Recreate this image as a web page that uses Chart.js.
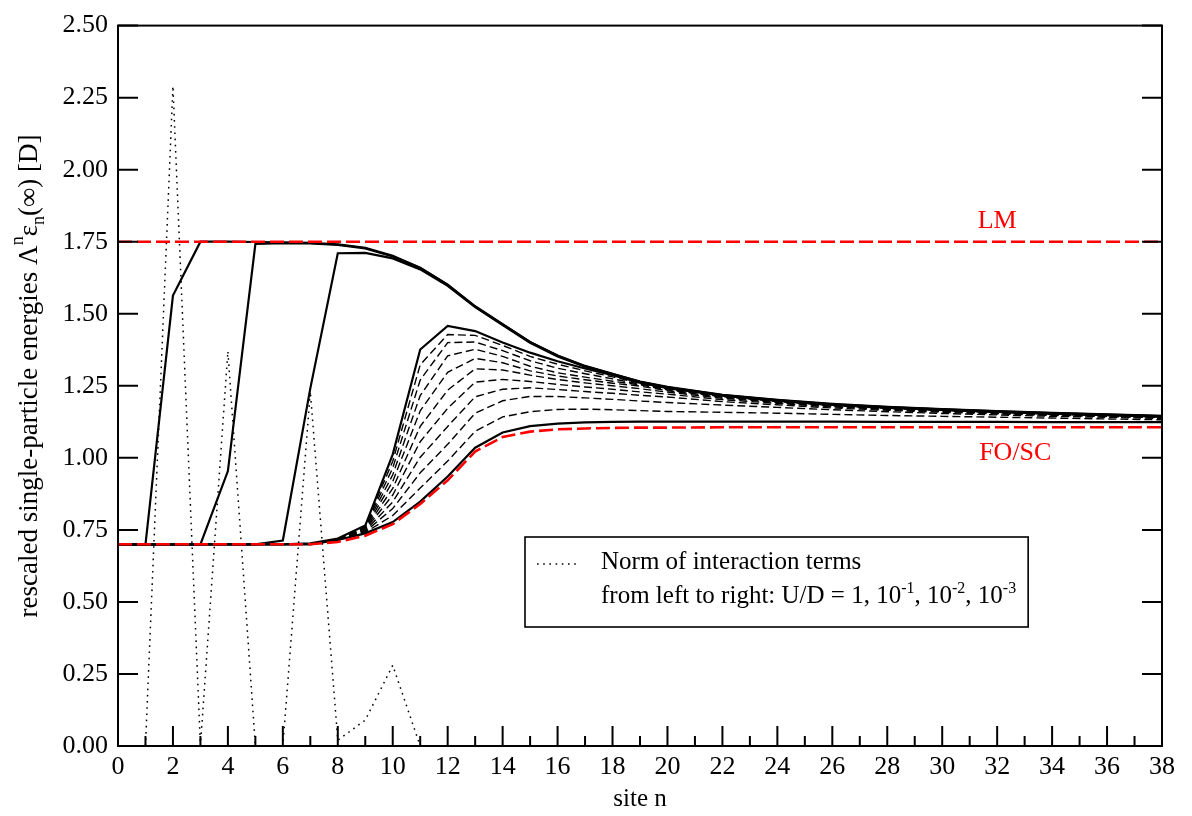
<!DOCTYPE html>
<html>
<head>
<meta charset="utf-8">
<script src="https://cdn.jsdelivr.net/npm/chart.js@4.4.1/dist/chart.umd.min.js"></script>
<style>
  body { margin: 0; background: #fff; }
  #wrap { width: 1192px; height: 816px; }
</style>
</head>
<body>
<div id="wrap"><canvas id="chart" width="1192" height="816"></canvas></div>
<script>
// sites used by the full curves
const sites = [0,1,2,3,4,5,6,7,8,9,10,11,12,13,14,15,16,17,18,19,20,22,24,26,28,30,32,34,36,38];

// solid curves, U/D = 1, 1e-1, 1e-2, 1e-3
const curveU1 = [0.70,0.70,1.563,1.750,1.750,1.749,1.748,1.746,1.741,1.729,1.701,1.660,1.601,1.526,1.464,1.402,1.355,1.319,1.292,1.265,1.246,1.219,1.201,1.187,1.177,1.169,1.162,1.156,1.151,1.146];
const curveU01 = [0.70,0.70,0.70,0.70,0.954,1.742,1.745,1.744,1.739,1.727,1.699,1.659,1.600,1.525,1.463,1.401,1.354,1.318,1.291,1.264,1.245,1.218,1.200,1.186,1.176,1.168,1.161,1.155,1.150,1.145];
const curveU001 = [0.70,0.70,0.70,0.70,0.70,0.70,0.713,1.241,1.710,1.711,1.692,1.654,1.597,1.523,1.461,1.399,1.352,1.316,1.289,1.263,1.244,1.217,1.199,1.185,1.175,1.167,1.160,1.154,1.149,1.144];
const curveU0001 = [0.70,0.70,0.70,0.70,0.70,0.70,0.70,0.703,0.720,0.765,1.012,1.376,1.458,1.440,1.400,1.365,1.335,1.310,1.287,1.261,1.242,1.216,1.198,1.184,1.174,1.166,1.159,1.153,1.148,1.143];
const curveLow = [0.70,0.70,0.70,0.70,0.70,0.70,0.70,0.70,0.715,0.738,0.777,0.848,0.935,1.035,1.088,1.110,1.119,1.123,1.125,1.126,1.126,1.126,1.126,1.126,1.125,1.125,1.125,1.124,1.124,1.124];

// red reference lines
const foSc = [0.70,0.70,0.70,0.70,0.70,0.70,0.70,0.70,0.708,0.730,0.770,0.840,0.922,1.022,1.072,1.091,1.099,1.102,1.104,1.105,1.105,1.106,1.106,1.106,1.106,1.106,1.106,1.106,1.106,1.106];
const lmSites = [0, 38];
const lm = [1.75, 1.75];

// dashed fan between U/D = 1e-3 and the lowest curve
const fanSites = [8,9,10,11,12,13,14,15,16,17,18,19,20,22,24,26,28,30,34,38];
const fan1 = [0.719,0.764,0.988,1.323,1.428,1.425,1.390,1.352,1.325,1.302,1.281,1.259,1.241,1.215,1.198,1.184,1.174,1.166,1.153,1.143];
const fan2 = [0.719,0.762,0.965,1.270,1.400,1.402,1.372,1.337,1.311,1.292,1.274,1.256,1.239,1.214,1.197,1.183,1.173,1.165,1.152,1.143];
const fan3 = [0.718,0.759,0.941,1.216,1.354,1.377,1.352,1.318,1.295,1.280,1.266,1.253,1.236,1.212,1.196,1.182,1.172,1.165,1.152,1.142];
const fan4 = [0.718,0.756,0.918,1.163,1.297,1.345,1.330,1.302,1.284,1.271,1.259,1.249,1.233,1.210,1.194,1.181,1.171,1.164,1.151,1.142];
const fan5 = [0.717,0.753,0.894,1.109,1.235,1.309,1.305,1.287,1.272,1.260,1.250,1.240,1.228,1.207,1.192,1.179,1.170,1.163,1.150,1.141];
const fan6 = [0.717,0.750,0.871,1.056,1.172,1.263,1.272,1.265,1.255,1.246,1.238,1.229,1.221,1.202,1.189,1.177,1.168,1.161,1.149,1.140];
const fan7 = [0.716,0.747,0.847,1.002,1.109,1.212,1.238,1.243,1.237,1.230,1.224,1.217,1.211,1.195,1.184,1.173,1.165,1.158,1.147,1.139];
const fan8 = [0.716,0.744,0.824,0.948,1.047,1.155,1.198,1.213,1.213,1.208,1.203,1.197,1.192,1.183,1.175,1.167,1.160,1.154,1.144,1.137];
const fan9 = [0.715,0.741,0.800,0.895,0.989,1.092,1.142,1.160,1.168,1.169,1.167,1.164,1.161,1.158,1.155,1.151,1.147,1.144,1.138,1.132];

// norm of interaction terms (dotted)
const normSites = [1,2,3,4,5,6,7,8,9,10,11];
const norm = [0,2.29,0,1.37,0,0,1.23,0.02,0.09,0.28,0];

const serif = '"Liberation Serif", "Times New Roman", serif';
const pts = (xs, ys) => xs.map((x, i) => ({ x: x, y: ys[i] }));

const base = { pointRadius: 0, tension: 0, fill: false };
const solid = (d) => ({ ...base, data: d, borderColor: '#000', borderWidth: 2.2 });
const dashed = (d) => ({ ...base, data: d, borderColor: '#000', borderWidth: 1.4, borderDash: [8, 4] });
const red = (d) => ({ ...base, data: d, borderColor: '#ff0000', borderWidth: 2.6, borderDash: [14, 5] });

const datasets = [
  red(pts(lmSites, lm)),
  red(pts(sites, foSc)),
  solid(pts(sites, curveU1)),
  solid(pts(sites, curveU01)),
  solid(pts(sites, curveU001)),
  solid(pts(sites, curveU0001)),
  solid(pts(sites, curveLow)),
  ...[fan1, fan2, fan3, fan4, fan5, fan6, fan7, fan8, fan9].map(f => dashed(pts(fanSites, f))),
  { ...base, data: pts(normSites, norm), borderColor: '#000', borderWidth: 1.5, borderDash: [1.6, 4.6] }
];

function richWidth(ctx, parts) {
  let w = 0;
  parts.forEach(p => { ctx.font = p.s + 'px ' + serif; w += ctx.measureText(p.t).width; });
  return w;
}
function drawRich(ctx, parts, x, y) {
  parts.forEach(p => {
    ctx.font = p.s + 'px ' + serif;
    ctx.fillText(p.t, x, y + (p.dy || 0));
    x += ctx.measureText(p.t).width;
  });
}

const legendLine1 = [{ t: 'Norm of interaction terms', s: 25 }];
const legendLine2 = [
  { t: 'from left to right: U/D = 1, 10', s: 25 }, { t: '-1', s: 16, dy: -10 },
  { t: ', 10', s: 25 }, { t: '-2', s: 16, dy: -10 },
  { t: ', 10', s: 25 }, { t: '-3', s: 16, dy: -10 }
];

const framePlugin = {
  id: 'frame',
  afterDraw(chart) {
    const { ctx, chartArea: a, scales: { x, y } } = chart;
    ctx.save();
    ctx.strokeStyle = '#000';
    ctx.lineWidth = 2;
    ctx.strokeRect(a.left, a.top, a.right - a.left, a.bottom - a.top);
    ctx.beginPath();
    for (let v = x.min; v <= x.max; v++) {
      const px = x.getPixelForValue(v);
      const len = v % 2 === 0 ? 20 : 10;
      ctx.moveTo(px, a.bottom); ctx.lineTo(px, a.bottom - len);
    }
    y.ticks.forEach(t => {
      const py = y.getPixelForValue(t.value);
      ctx.moveTo(a.left, py); ctx.lineTo(a.left + 20, py);
      ctx.moveTo(a.right, py); ctx.lineTo(a.right - 20, py);
    });
    ctx.stroke();

    // curve labels
    ctx.fillStyle = '#ff0000';
    ctx.font = '26px ' + serif;
    ctx.textAlign = 'center';
    ctx.textBaseline = 'middle';
    ctx.fillText('LM', x.getPixelForValue(32.0), y.getPixelForValue(1.82));
    ctx.fillText('FO/SC', x.getPixelForValue(32.66), y.getPixelForValue(1.016));

    // legend, box sized to the longer line
    ctx.fillStyle = '#000';
    ctx.textAlign = 'left';
    ctx.textBaseline = 'alphabetic';
    const textX = 601;
    const boxRight = textX + Math.max(richWidth(ctx, legendLine1), richWidth(ctx, legendLine2)) + 12;
    ctx.lineWidth = 1.6;
    ctx.strokeRect(525, 537, boxRight - 525, 90);
    ctx.lineWidth = 1.5;
    ctx.setLineDash([1.6, 4.6]);
    ctx.beginPath(); ctx.moveTo(537, 564); ctx.lineTo(578, 564); ctx.stroke();
    ctx.setLineDash([]);
    drawRich(ctx, legendLine1, textX, 569);
    drawRich(ctx, legendLine2, textX, 603);

    // y axis title
    const parts = [
      { t: 'rescaled single-particle energies Λ', s: 27 }, { t: 'n', s: 18, dy: -14 },
      { t: 'ε', s: 27 }, { t: 'n', s: 18, dy: 7 },
      { t: '(∞) [D]', s: 27 }
    ];
    ctx.translate(37, 376);
    ctx.rotate(-Math.PI / 2);
    drawRich(ctx, parts, -richWidth(ctx, parts) / 2, 0);
    ctx.restore();
  }
};

new Chart(document.getElementById('chart'), {
  type: 'line',
  data: { datasets },
  options: {
    responsive: false,
    animation: false,
    layout: { padding: { top: 15, right: 30, left: 0, bottom: 0 } },
    plugins: { legend: { display: false }, tooltip: { enabled: false } },
    scales: {
      x: {
        type: 'linear', min: 0, max: 38,
        grid: { display: false, drawTicks: false },
        border: { display: false },
        ticks: { stepSize: 2, color: '#000', font: { family: serif, size: 26 }, padding: 6, maxRotation: 0, autoSkip: false },
        title: { display: true, text: 'site n', color: '#000', font: { family: serif, size: 25 }, padding: { top: 0, bottom: 2 } },
        afterFit(s) { s.height = 70; }
      },
      y: {
        min: 0, max: 2.5,
        grid: { display: false, drawTicks: false },
        border: { display: false },
        ticks: { stepSize: 0.25, color: '#000', font: { family: serif, size: 26 }, padding: 10, callback: v => v.toFixed(2) },
        afterFit(s) { s.width = 118; }
      }
    }
  },
  plugins: [framePlugin]
});
</script>
</body>
</html>
